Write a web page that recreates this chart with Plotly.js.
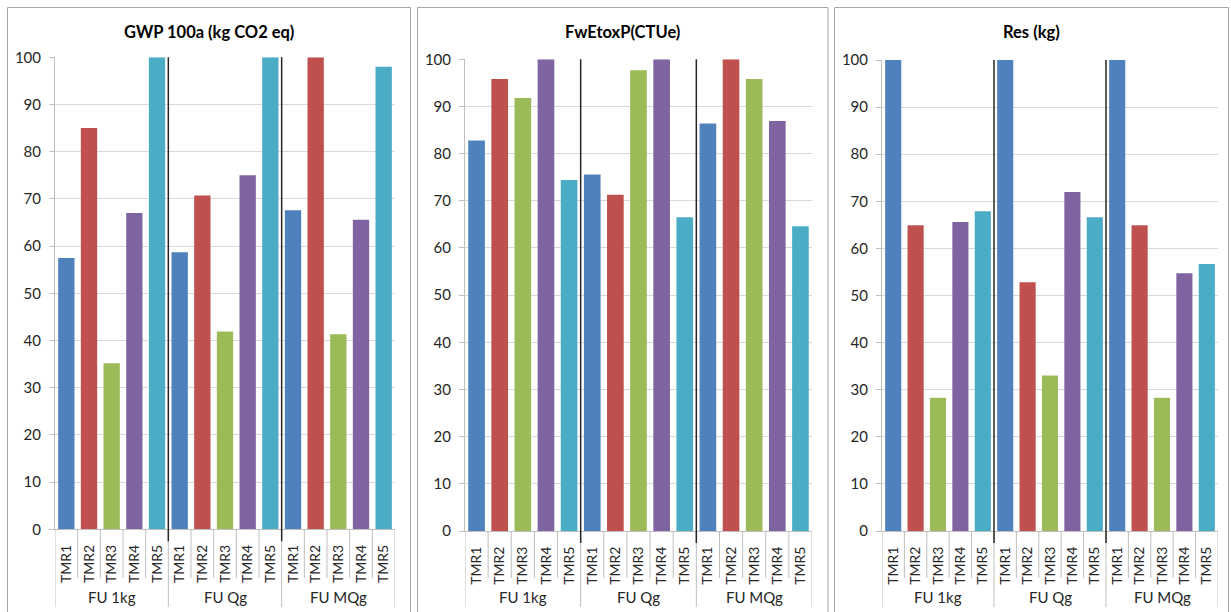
<!DOCTYPE html>
<html>
<head>
<meta charset="utf-8">
<script src="https://cdn.plot.ly/plotly-3.0.1.min.js"></script>
<style>
html,body{margin:0;padding:0;background:#fff;}
#chart{width:1231px;height:612px;}
</style>
</head>
<body>
<div id="chart"></div>
<script>
// ---- data ----
const groups = ['FU 1kg', 'FU Qg', 'FU MQg'];
const tmrs = ['TMR1', 'TMR2', 'TMR3', 'TMR4', 'TMR5'];
const tmrColors = ['#4F81BD', '#C0504D', '#9BBB59', '#8064A2', '#4BACC6'];
const panelTitles = ['GWP 100a (kg CO2 eq)', 'FwEtoxP(CTUe)', 'Res (kg)'];
// values per group, TMR1..TMR5
const gwp = [57.5, 85, 35.2, 67, 100,   58.7, 70.7, 41.9, 75, 100,   67.6, 100, 41.3, 65.6, 98];
const fwetox = [82.8, 95.8, 91.8, 100, 74.4,   75.6, 71.3, 97.7, 100, 66.5,   86.4, 100, 95.8, 86.9, 64.6];
const res = [100, 64.9, 28.3, 65.6, 67.9,   100, 52.8, 33.0, 72.0, 66.6,   100, 64.9, 28.3, 54.7, 56.7];
const seriesList = [gwp, fwetox, res];

// ---- layout geometry (pixels) ----
const W = 1231, H = 612;
const geom = [
  {plot: [55, 395], yTop: 57.3, yBot: 529.3, box: [7.5, 410.5]},
  {plot: [465, 812], yTop: 59.3, yBot: 531, box: [417.5, 828]},
  {plot: [882, 1218], yTop: 60, yBot: 531, box: [834.5, 1228.5]}
];
const px = p => p / W;
const py = p => 1 - p / H;
const FONT = 'Lato, "Open Sans", sans-serif';
const TXT = '#262626';
const gridCol = '#D9D9D9';
const lineCol = '#BFBFBF';

const nCat = groups.length * tmrs.length;
const xIdx = [], ticktext = [], barColors = [];
groups.forEach((g, gi) => tmrs.forEach((t, ti) => {
  xIdx.push(gi * tmrs.length + ti);
  ticktext.push(t);
  barColors.push(tmrColors[ti]);
}));

const traces = [];
const layout = {
  width: W, height: H,
  margin: {l: 0, r: 0, t: 0, b: 0},
  paper_bgcolor: '#fff', plot_bgcolor: '#fff',
  showlegend: false,
  bargap: 0.28,
  font: {family: FONT, color: TXT},
  shapes: [], annotations: []
};

seriesList.forEach((vals, i) => {
  const sfx = i === 0 ? '' : String(i + 1);
  const g = geom[i];
  traces.push({
    type: 'bar', x: xIdx, y: vals,
    xaxis: 'x' + sfx, yaxis: 'y' + sfx,
    marker: {color: barColors, line: {width: 0}},
    hoverinfo: 'x+y'
  });
  layout['xaxis' + sfx] = {
    domain: [px(g.plot[0]), px(g.plot[1])],
    anchor: 'y' + sfx,
    range: [-0.5, nCat - 0.5],
    tickmode: 'array', tickvals: xIdx, ticktext: ticktext,
    tickangle: -90, ticks: '', ticklabelstandoff: 9,
    tickfont: {size: 14, color: TXT, family: FONT},
    showgrid: false, zeroline: false,
    showline: true, linecolor: lineCol, linewidth: 1,
    fixedrange: true
  };
  layout['yaxis' + sfx] = {
    domain: [py(g.yBot), py(g.yTop)],
    anchor: 'x' + sfx,
    range: [0, 100], dtick: 10, tick0: 0,
    ticks: 'outside', ticklen: 5, tickcolor: lineCol, ticklabelstandoff: 5,
    tickfont: {size: 15, color: TXT, family: FONT},
    showgrid: true, gridcolor: gridCol, gridwidth: 1,
    zeroline: false,
    showline: true, linecolor: lineCol, linewidth: 1,
    fixedrange: true
  };

  // panel frame (left, top, right)
  const frame = {color: '#A6A6A6', width: 1};
  layout.shapes.push(
    {type: 'line', xref: 'paper', yref: 'paper', x0: px(g.box[0]), x1: px(g.box[0]), y0: py(7.5), y1: py(H + 2), line: frame},
    {type: 'line', xref: 'paper', yref: 'paper', x0: px(g.box[0]), x1: px(g.box[1]), y0: py(7.5), y1: py(7.5), line: frame},
    {type: 'line', xref: 'paper', yref: 'paper', x0: px(g.box[1]), x1: px(g.box[1]), y0: py(7.5), y1: py(H + 2), line: frame}
  );

  // category cell dividers below the axis
  for (let k = 0; k <= nCat; k++) {
    const isGroupEdge = k % tmrs.length === 0;
    layout.shapes.push({
      type: 'line', xref: 'x' + sfx, yref: 'paper',
      x0: k - 0.5, x1: k - 0.5,
      y0: py(g.yBot), y1: py(isGroupEdge ? 607 : 578),
      line: {color: lineCol, width: 1}, layer: 'below'
    });
  }
  // dark separators between groups
  for (let k = tmrs.length; k < nCat; k += tmrs.length) {
    layout.shapes.push({
      type: 'line', xref: 'x' + sfx, yref: 'paper',
      x0: k - 0.5, x1: k - 0.5,
      y0: py(g.yTop), y1: py(g.yBot + 12),
      line: {color: '#262626', width: 1.5}, layer: 'above'
    });
  }
  // group labels
  groups.forEach((gr, gi) => {
    layout.annotations.push({
      xref: 'x' + sfx, yref: 'paper',
      x: gi * tmrs.length + (tmrs.length - 1) / 2, y: py(597),
      text: gr, showarrow: false,
      xanchor: 'center', yanchor: 'middle',
      font: {size: 15, color: TXT, family: FONT}
    });
  });
  // panel title
  layout.annotations.push({
    xref: 'paper', yref: 'paper',
    x: px((g.box[0] + g.box[1]) / 2), y: py(32),
    text: '<b>' + panelTitles[i] + '</b>', showarrow: false,
    xanchor: 'center', yanchor: 'middle',
    font: {size: 16.5, color: '#000', family: FONT}
  });
});

Plotly.newPlot('chart', traces, layout, {displayModeBar: false, staticPlot: true});
</script>
</body>
</html>
